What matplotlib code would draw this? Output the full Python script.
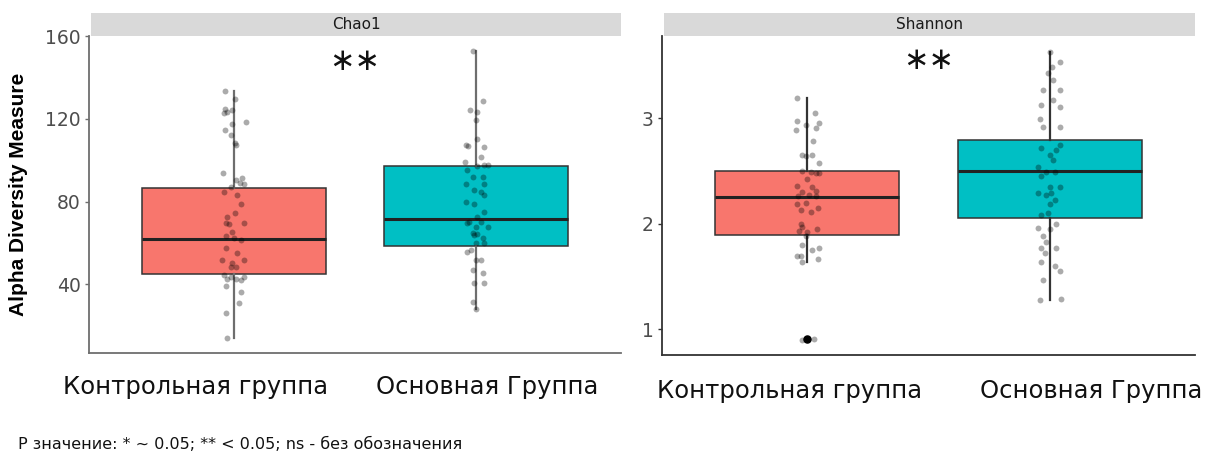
import matplotlib.pyplot as plt
from matplotlib.patches import Rectangle

groups = ["Контрольная группа", "Основная Группа"]
colors = ["#F8766D", "#00BFC4"]

# box statistics: whislo, q1, median, q3, whishi
chao_stats = [
    [13.7, 44.8, 61.8, 86.4, 133.5],
    [27.8, 58.4, 71.4, 97.1, 152.9],
]
shannon_stats = [
    [1.64, 1.89, 2.25, 2.50, 3.19],
    [1.28, 2.05, 2.50, 2.79, 3.63],
]
shannon_outliers = [[0.905], []]

# per-sample values and their horizontal jitter
chao_ctrl = [133.5, 129.8, 125.0, 123.4, 122.9, 124.2, 118.5, 117.4, 114.8, 112.1,
             108.4, 107.2, 93.8, 90.6, 91.6, 88.7, 89.0, 87.1, 84.7, 83.1,
             79.0, 74.5, 72.6, 69.4, 68.9, 69.7, 65.3, 63.2, 62.1, 61.3,
             57.3, 55.1, 51.9, 51.6, 50.0, 48.1, 48.1, 44.4, 42.3, 43.2,
             42.3, 41.9, 43.5, 39.0, 36.3, 31.0, 26.1, 13.7]
chao_ctrl_dx = [-0.037, 0.002, -0.037, -0.028, -0.041, -0.007, 0.049, -0.007, -0.037, -0.014,
                0.002, 0.006, -0.046, 0.006, 0.034, 0.042, 0.024, -0.014, -0.041, 0.014,
                0.028, 0.004, -0.028, -0.035, -0.021, 0.042, -0.007, -0.035, 0.000, 0.028,
                -0.035, 0.014, 0.042, -0.050, -0.007, 0.006, -0.014, -0.041, -0.028, -0.014,
                0.006, 0.028, 0.042, -0.035, 0.028, 0.020, -0.035, -0.028]

chao_main = [152.9, 128.5, 124.5, 123.4, 119.3, 110.5, 107.2, 106.8, 106.4, 101.6,
             99.2, 97.1, 97.6, 97.6, 95.2, 91.9, 91.9, 88.7, 88.7, 85.5,
             84.7, 83.1, 79.8, 79.0, 75.0, 72.6, 70.1, 69.4, 67.7, 70.1,
             67.7, 64.8, 63.7, 64.2, 62.1, 59.7, 59.7, 55.6, 56.4, 51.6,
             51.6, 46.8, 45.2, 40.3, 40.3, 31.4, 27.8]
chao_main_dx = [-0.014, 0.028, -0.024, 0.004, 0.000, 0.004, -0.041, -0.032, 0.032, 0.021,
                -0.046, 0.004, 0.048, 0.034, -0.035, -0.014, 0.028, -0.041, 0.032, -0.007,
                0.021, 0.034, -0.041, -0.007, 0.034, 0.006, -0.028, -0.035, 0.000, 0.021,
                0.048, -0.014, -0.007, 0.006, 0.028, 0.000, 0.034, -0.035, -0.021, 0.000,
                0.021, -0.014, 0.028, -0.007, 0.032, -0.014, 0.000]

shan_ctrl = [3.19, 3.05, 2.97, 2.94, 2.96, 2.89, 2.91, 2.78, 2.65, 2.64,
             2.65, 2.58, 2.50, 2.49, 2.48, 2.48, 2.42, 2.36, 2.35, 2.31,
             2.30, 2.26, 2.27, 2.26, 2.19, 2.20, 2.15, 2.13, 2.11, 2.00,
             1.97, 1.95, 1.93, 1.92, 1.88, 1.80, 1.75, 1.77, 1.69, 1.69,
             1.67, 1.64, 0.905, 0.90, 0.91]
shan_ctrl_dx = [-0.044, 0.030, -0.041, -0.007, 0.048, -0.048, 0.034, 0.025, -0.021, -0.007,
                0.018, 0.048, -0.024, 0.014, 0.034, 0.048, 0.000, -0.041, 0.021, 0.034,
                -0.021, -0.038, 0.007, 0.034, -0.041, -0.007, 0.045, -0.028, 0.014, -0.028,
                -0.021, 0.041, -0.035, 0.000, -0.007, -0.021, 0.021, 0.048, -0.041, -0.028,
                0.045, -0.021, 0.000, -0.021, 0.028]

shan_main = [3.63, 3.49, 3.53, 3.43, 3.36, 3.27, 3.27, 3.17, 3.11, 3.13,
             2.99, 2.92, 2.92, 2.72, 2.65, 2.70, 2.75, 2.60, 2.54, 2.45,
             2.49, 2.49, 2.35, 2.35, 2.29, 2.27, 2.29, 2.23, 2.19, 2.08,
             2.10, 2.00, 1.96, 1.95, 1.88, 1.83, 1.77, 1.77, 1.72, 1.64,
             1.60, 1.55, 1.47, 1.28, 1.29]
shan_main_dx = [0.000, 0.011, 0.041, -0.007, 0.014, 0.041, -0.028, 0.014, 0.041, -0.035,
                -0.041, -0.028, 0.044, -0.035, 0.000, 0.028, 0.041, 0.014, -0.048, -0.035,
                0.021, -0.014, 0.000, 0.041, -0.048, -0.014, 0.007, 0.021, 0.000, -0.035,
                -0.007, 0.028, -0.048, 0.000, -0.028, -0.014, -0.035, 0.028, -0.021, -0.035,
                0.021, 0.041, -0.028, -0.041, 0.048]

signif = "∗∗"

plt.rcParams["font.family"] = ["DejaVu Sans"]
fig = plt.figure(figsize=(12.11, 4.54), dpi=100)
W, H = 1211, 454


def px_axes(x0, y0, x1, y1):
    return fig.add_axes([x0 / W, 1 - y1 / H, (x1 - x0) / W, (y1 - y0) / H])


def panel(ax, stats, points, offsets, outliers, ylim, yticks, title, strip, star_y, line_col):
    bxp_stats = []
    for s in stats:
        bxp_stats.append(dict(whislo=s[0], q1=s[1], med=s[2], q3=s[3], whishi=s[4], fliers=[]))
    parts = ax.bxp(bxp_stats, positions=[1, 2], widths=0.76, patch_artist=True,
                   showcaps=False, showfliers=False,
                   boxprops=dict(edgecolor="#333333", linewidth=1.1),
                   whiskerprops=dict(color=line_col, linewidth=1.6),
                   medianprops=dict(color="#222222", linewidth=2.2))
    for patch, c in zip(parts["boxes"], colors):
        patch.set_facecolor(c)
    for i, (vals, dx) in enumerate(zip(points, offsets)):
        ax.scatter([i + 1 + d for d in dx], vals, s=18, color="black", alpha=0.33,
                   linewidths=0, zorder=4)
    for i, outs in enumerate(outliers):
        if outs:
            ax.scatter([i + 1] * len(outs), outs, s=26, color="black", zorder=5)
    ax.text(1.5, star_y, signif, ha="center", va="center", fontsize=22, color="#111111")

    ax.set_xlim(0.4, 2.6)
    ax.set_ylim(*ylim)
    ax.set_yticks(yticks)
    ax.set_xticks([])
    for side in ["top", "right"]:
        ax.spines[side].set_visible(False)
    for side in ["left", "bottom"]:
        ax.spines[side].set_color(line_col)
        ax.spines[side].set_linewidth(1.3)
    ax.tick_params(axis="y", length=3, width=1, color=line_col, labelsize=13.5,
                   labelcolor="#4D4D4D", pad=3)

    strip.add_patch(Rectangle((0, 0), 1, 1, facecolor="#D9D9D9", edgecolor="none",
                              transform=strip.transAxes))
    strip.text(0.5, 0.5, title, ha="center", va="center", fontsize=11, color="#1A1A1A")
    strip.axis("off")


ax1 = px_axes(89, 36, 621, 353)
strip1 = px_axes(91, 13, 621, 36)
panel(ax1, chao_stats, [chao_ctrl, chao_main], [chao_ctrl_dx, chao_main_dx], [[], []],
      (6.6, 160.2), [40, 80, 120, 160], "Chao1", strip1, 148, "#6E6E6E")
ax1.set_ylabel("Alpha Diversity Measure", family="Liberation Sans", fontweight="bold",
               fontsize=15, color="black", labelpad=12)

ax2 = px_axes(662, 36, 1195, 355)
strip2 = px_axes(664, 13, 1195, 36)
panel(ax2, shannon_stats, [shan_ctrl, shan_main], [shan_ctrl_dx, shan_main_dx], shannon_outliers,
      (0.756, 3.78), [1, 2, 3], "Shannon", strip2, 3.55, "#333333")

# group names under each panel
label_pos = [(196, 387), (487, 387), (790, 391), (1091, 391)]
for k, (x, y) in enumerate(label_pos):
    fig.text(x / W, 1 - y / H, groups[k % 2], ha="center", va="center",
             fontsize=17.5, color="#111111")

fig.text(18 / W, 1 - 444 / H, "P значение: * ~ 0.05; ** < 0.05; ns - без обозначения",
         ha="left", va="center", fontsize=11.5, color="#111111")

fig.savefig("out.png", dpi=100)
